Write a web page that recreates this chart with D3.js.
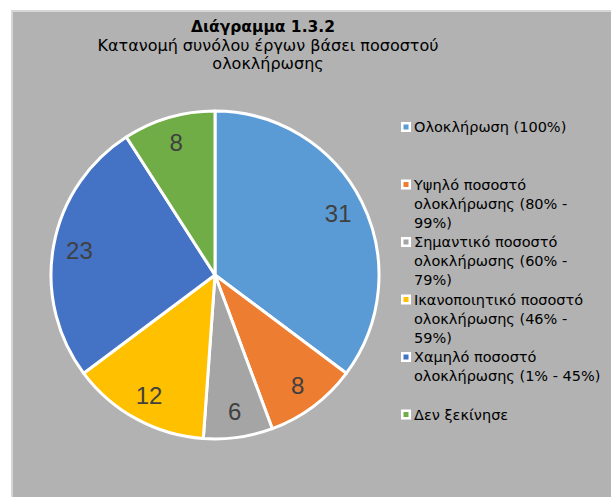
<!DOCTYPE html>
<html>
<head>
<meta charset="utf-8">
<script src="https://d3js.org/d3.v7.min.js"></script>
<style>
  body { margin: 0; background: #ffffff; }
  svg { display: block; }
</style>
</head>
<body>
<div id="chart"></div>
<script>
// data
var categories = [
  'Ολοκλήρωση (100%)',
  'Υψηλό ποσοστό ολοκλήρωσης (80% - 99%)',
  'Σημαντικό ποσοστό ολοκλήρωσης (60% - 79%)',
  'Ικανοποιητικό ποσοστό ολοκλήρωσης (46% - 59%)',
  'Χαμηλό ποσοστό ολοκλήρωσης (1% - 45%)',
  'Δεν ξεκίνησε'
];
// legend text as it wraps in the picture
var legendLines = [
  ['Ολοκλήρωση (100%)'],
  ['Υψηλό ποσοστό', 'ολοκλήρωσης (80% -', '99%)'],
  ['Σημαντικό ποσοστό', 'ολοκλήρωσης (60% -', '79%)'],
  ['Ικανοποιητικό ποσοστό', 'ολοκλήρωσης (46% -', '59%)'],
  ['Χαμηλό ποσοστό', 'ολοκλήρωσης (1% - 45%)'],
  ['Δεν ξεκίνησε']
];
var values = [31, 8, 6, 12, 23, 8];
var colors = ['#5b9bd5', '#ed7d31', '#a5a5a5', '#ffc000', '#4472c4', '#70ad47'];
var titleText = 'Διάγραμμα 1.3.2';
var subtitleLines = ['Κατανομή συνόλου έργων βάσει ποσοστού', 'ολοκλήρωσης'];

var width = 611, height = 497;
var titleFont = '"DejaVu Sans", sans-serif';

var svg = d3.select('#chart').append('svg')
    .attr('width', width)
    .attr('height', height);

// chart area
svg.append('rect')
    .attr('x', 11).attr('y', 10)
    .attr('width', width).attr('height', height)
    .attr('fill', '#d6d6d6');
svg.append('rect')
    .attr('x', 13).attr('y', 12)
    .attr('width', width).attr('height', height)
    .attr('fill', '#b2b2b2');

// title
svg.append('text')
    .attr('x', 263).attr('y', 32)
    .attr('text-anchor', 'middle')
    .style('font-family', titleFont)
    .style('font-size', '15.5px')
    .style('font-weight', 'bold')
    .attr('fill', '#000')
    .text(titleText);

svg.selectAll('.subtitle')
    .data(subtitleLines)
    .enter().append('text')
    .attr('class', 'subtitle')
    .attr('x', 268)
    .attr('y', function(d, i) { return 50.5 + i * 18; })
    .attr('text-anchor', 'middle')
    .style('font-family', titleFont)
    .style('font-size', '16px')
    .attr('fill', '#000')
    .text(function(d) { return d; });

// pie
var cx = 215, cy = 275, radius = 164;

var pie = d3.pie().sort(null).value(function(d) { return d; });
var arc = d3.arc().innerRadius(0).outerRadius(radius);
var labelArc = d3.arc().innerRadius(radius * 0.84).outerRadius(radius * 0.84);

var g = svg.append('g').attr('transform', 'translate(' + cx + ',' + cy + ')');
var arcs = pie(values);

g.selectAll('path')
    .data(arcs)
    .enter().append('path')
    .attr('d', arc)
    .attr('fill', function(d, i) { return colors[i]; })
    .attr('stroke', '#ffffff')
    .attr('stroke-width', 3)
    .attr('stroke-linejoin', 'round');

g.selectAll('.lbl')
    .data(arcs)
    .enter().append('text')
    .attr('class', 'lbl')
    .attr('transform', function(d) { return 'translate(' + labelArc.centroid(d) + ')'; })
    .attr('text-anchor', 'middle')
    .attr('dy', '0.35em')
    .style('font-family', '"Liberation Sans", sans-serif')
    .style('font-size', '24px')
    .attr('fill', '#404040')
    .text(function(d) { return d.data; });

// legend
var legend = svg.append('g').attr('class', 'legend');
var item = legend.selectAll('g')
    .data(categories)
    .enter().append('g')
    .attr('transform', function(d, i) { return 'translate(401,' + (127 + i * 57.5) + ')'; });

item.append('rect')
    .attr('x', 0).attr('y', -5)
    .attr('width', 10).attr('height', 10)
    .attr('fill', '#ffffff');
item.append('rect')
    .attr('x', 2.5).attr('y', -2.5)
    .attr('width', 5).attr('height', 5)
    .attr('fill', function(d, i) { return colors[i]; });

item.each(function(d, i) {
    d3.select(this).selectAll('text')
        .data(legendLines[i])
        .enter().append('text')
        .attr('x', 13)
        .attr('y', function(t, j) { return j * 19; })
        .attr('dy', '0.35em')
        .style('font-family', titleFont)
        .style('font-size', '14.5px')
        .attr('fill', '#000')
        .text(function(t) { return t; });
});
</script>
</body>
</html>
